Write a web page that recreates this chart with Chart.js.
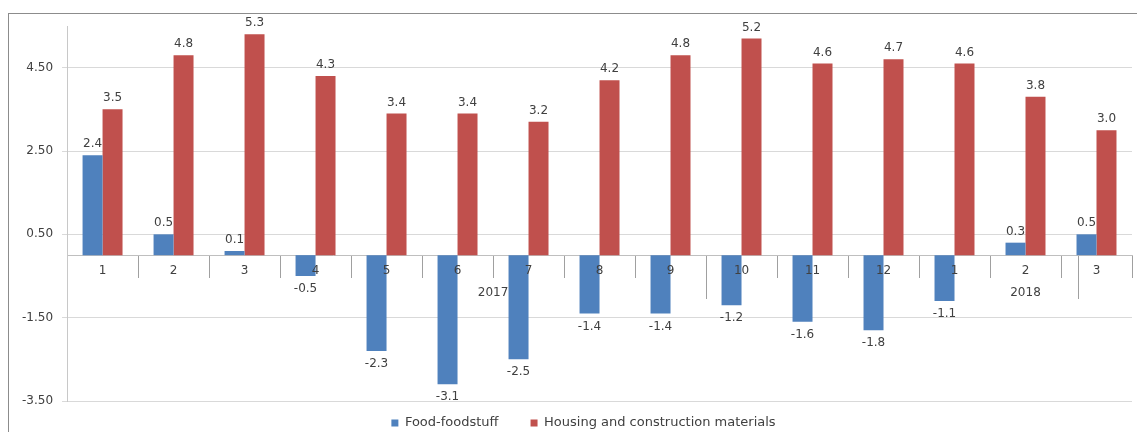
<!DOCTYPE html>
<html>
<head>
<meta charset="utf-8">
<title>Food vs housing</title>
<script src="https://cdn.jsdelivr.net/npm/chart.js@4.4.0/dist/chart.umd.min.js"></script>
<style>
  html, body { margin: 0; padding: 0; background: #fff; overflow: hidden; }
  #wrap { position: relative; width: 1137px; height: 432px; overflow: hidden; }
  #frame { position: absolute; left: 8px; top: 13px; width: 1200px; height: 500px; border: 1px solid #8c8c8c; }
  #chart-box { position: absolute; left: 0; top: 0; width: 1137px; height: 432px; }
</style>
</head>
<body>
<div id="wrap">
  <div id="frame"></div>
  <div id="chart-box"><canvas id="cpi-chart"></canvas></div>
</div>
<script>
const months = ['1', '2', '3', '4', '5', '6', '7', '8', '9', '10', '11', '12', '1', '2', '3'];
const years = ['2017', '2018'];
const monthsPerYear = [12, 3];
const foodValues = [2.4, 0.5, 0.1, -0.5, -2.3, -3.1, -2.5, -1.4, -1.4, -1.2, -1.6, -1.8, -1.1, 0.3, 0.5];
const housingValues = [3.5, 4.8, 5.3, 4.3, 3.4, 3.4, 3.2, 4.2, 4.8, 5.2, 4.6, 4.7, 4.6, 3.8, 3.0];
const yTicks = [-3.5, -1.5, 0.5, 2.5, 4.5];

const TEXT = '#404040';
const FONT = { family: 'DejaVu Sans', size: 12 };

// year groups: edges between groups and the middle of each group
const yearEdges = [0];
const yearMids = [];
monthsPerYear.forEach((n, i) => {
  const start = yearEdges[i];
  yearMids.push(start + n / 2);
  yearEdges.push(start + n);
});
const yearTickValues = yearEdges.concat(yearMids).sort((a, b) => a - b);

function yearLabel(v) {
  const i = yearMids.indexOf(v);
  return i >= 0 ? years[i] : '';
}

// value labels over / under each bar
const barLabels = {
  id: 'barLabels',
  afterDatasetsDraw(chart) {
    const ctx = chart.ctx;
    ctx.save();
    ctx.font = FONT.size + 'px ' + FONT.family;
    ctx.fillStyle = TEXT;
    ctx.textAlign = 'center';
    ctx.textBaseline = 'middle';
    chart.data.datasets.forEach((ds, di) => {
      const meta = chart.getDatasetMeta(di);
      meta.data.forEach((bar, i) => {
        const v = ds.data[i];
        const y = v >= 0 ? bar.y - 11 : bar.y + 13;
        ctx.fillText(v.toFixed(1), bar.x, y);
      });
    });
    ctx.restore();
  }
};

// the legend needs wide gaps between items but a short box, so nudge it after layout
const legendNudge = {
  id: 'legendNudge',
  afterLayout(chart) {
    const lg = chart.legend;
    if (!lg) return;
    lg.left += 11; lg.right += 11;
    lg.top -= 16.5; lg.bottom -= 16.5;
  }
};

function renderChart() {
  const ctx = document.getElementById('cpi-chart').getContext('2d');
  window.cpiChart = new Chart(ctx, {
    type: 'bar',
    data: {
      labels: months,
      datasets: [{
        label: 'Food-foodstuff',
        data: foodValues,
        backgroundColor: '#4f81bd',
        borderWidth: 0,
        categoryPercentage: 0.563,
        barPercentage: 1.0
      }, {
        label: 'Housing and construction materials',
        data: housingValues,
        backgroundColor: '#c0504d',
        borderWidth: 0,
        categoryPercentage: 0.563,
        barPercentage: 1.0
      }]
    },
    plugins: [barLabels, legendNudge],
    options: {
      responsive: true,
      maintainAspectRatio: false,
      animation: false,
      layout: { padding: { left: 13, right: 5, top: 26, bottom: -24 } },
      plugins: {
        tooltip: { enabled: false },
        legend: {
          position: 'bottom',
          labels: {
            boxWidth: 7,
            boxHeight: 7,
            padding: 32,
            font: { family: 'DejaVu Sans', size: 13 },
            color: TEXT
          }
        }
      },
      scales: {
        x: {
          position: { y: 0 },
          offset: true,
          grid: { drawOnChartArea: false, offset: true, tickLength: 22, tickColor: '#a0a0a0' },
          border: { color: '#bfbfbf' },
          ticks: { z: 1, padding: -13, maxRotation: 0, autoSkip: false, font: FONT, color: TEXT }
        },
        yearAxis: {
          type: 'linear',
          axis: 'x',
          position: { y: 0 },
          min: 0,
          max: months.length,
          offset: false,
          afterBuildTicks: scale => { scale.ticks = yearTickValues.map(v => ({ value: v })); },
          grid: {
            drawOnChartArea: false,
            tickLength: 44,
            tickColor: c => (c.tick && yearEdges.includes(c.tick.value)) ? '#a0a0a0' : 'rgba(0,0,0,0)'
          },
          border: { display: false },
          ticks: {
            padding: -13.5,
            maxRotation: 0,
            autoSkip: false,
            font: FONT,
            color: TEXT,
            callback: v => yearLabel(v)
          }
        },
        y: {
          min: -3.5,
          max: 5.5,
          afterBuildTicks: scale => { scale.ticks = yTicks.map(v => ({ value: v })); },
          grid: { color: '#d9d9d9', tickLength: 5 },
          border: { color: '#c8c8c8' },
          ticks: { padding: 9, font: FONT, color: TEXT, callback: v => v.toFixed(2) }
        }
      }
    }
  });
}

document.addEventListener('DOMContentLoaded', renderChart);
</script>
</body>
</html>
